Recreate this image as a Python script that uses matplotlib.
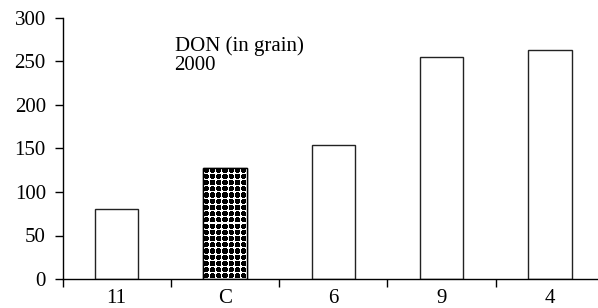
import matplotlib
matplotlib.use('Agg')
import matplotlib.pyplot as plt
import numpy as np

# DON (in grain), 2000
categories = ['11', 'C', '6', '9', '4']
don_values = [80, 128, 154, 255, 263]
patterned = ['C']

plt.rcParams['font.family'] = ['Liberation Serif', 'DejaVu Serif']
plt.rcParams['font.size'] = 15

fig = plt.figure(figsize=(5.98, 3.08), dpi=100)
ax = fig.add_axes([62.5 / 598, 29 / 308, 541.5 / 598, 261 / 308])

x = np.arange(len(categories))
bars = ax.bar(x, don_values, width=0.4, color='white', edgecolor='#222222',
              linewidth=1.0, zorder=2)

ax.set_xlim(-0.5, len(categories) - 0.5)
ax.set_ylim(0, 300)
ax.set_yticks(np.arange(0, 301, 50))

# boundaries get the tick marks, centres get the labels
ax.set_xticks(np.arange(len(categories)) - 0.5)
ax.set_xticklabels([])
ax.set_xticks(x, minor=True)
ax.set_xticklabels(categories, minor=True)
ax.tick_params(axis='x', which='major', direction='out', length=6, width=1)
ax.tick_params(axis='x', which='minor', length=0, pad=7)
ax.tick_params(axis='y', direction='out', length=6, width=1, pad=6)

for side in ('top', 'right'):
    ax.spines[side].set_visible(False)
for side in ('left', 'bottom'):
    ax.spines[side].set_linewidth(1.0)

# dotted fill for the control bar
fig.canvas.draw()
for bar, cat in zip(bars, categories):
    if cat not in patterned:
        continue
    x0, y0 = bar.get_x(), bar.get_y()
    w, h = bar.get_width(), bar.get_height()
    p0 = ax.transData.transform((x0, y0))
    p1 = ax.transData.transform((x0 + w, y0 + h))
    period = 6.2
    nx_cells = max(1, int(round((p1[0] - p0[0]) / period)))
    ny_cells = max(1, int(round((p1[1] - p0[1]) / period)))
    sub = 12
    yy, xx = np.mgrid[0:sub, 0:sub]
    d = np.hypot(xx - (sub - 1) / 2, yy - (sub - 1) / 2)
    cell = np.where(d < sub * 0.45, 0.0, 1.0)
    img = np.tile(cell, (ny_cells, nx_cells))
    im = ax.imshow(img, cmap='gray', vmin=0, vmax=1, interpolation='nearest',
                   extent=(x0, x0 + w, y0, y0 + h), aspect='auto', zorder=2.5)
    im.set_clip_path(bar)
    ax.bar(bar.get_x() + w / 2, h, width=w, color='none', edgecolor='black',
           linewidth=1.0, zorder=3)

ax.set_xlim(-0.5, len(categories) - 0.5)
ax.set_ylim(0, 300)

ax.text(0.535, 262, 'DON (in grain)', ha='left', va='baseline')
ax.text(0.535, 240, '2000', ha='left', va='baseline')

fig.savefig('out.png', dpi=100)
plt.close(fig)
